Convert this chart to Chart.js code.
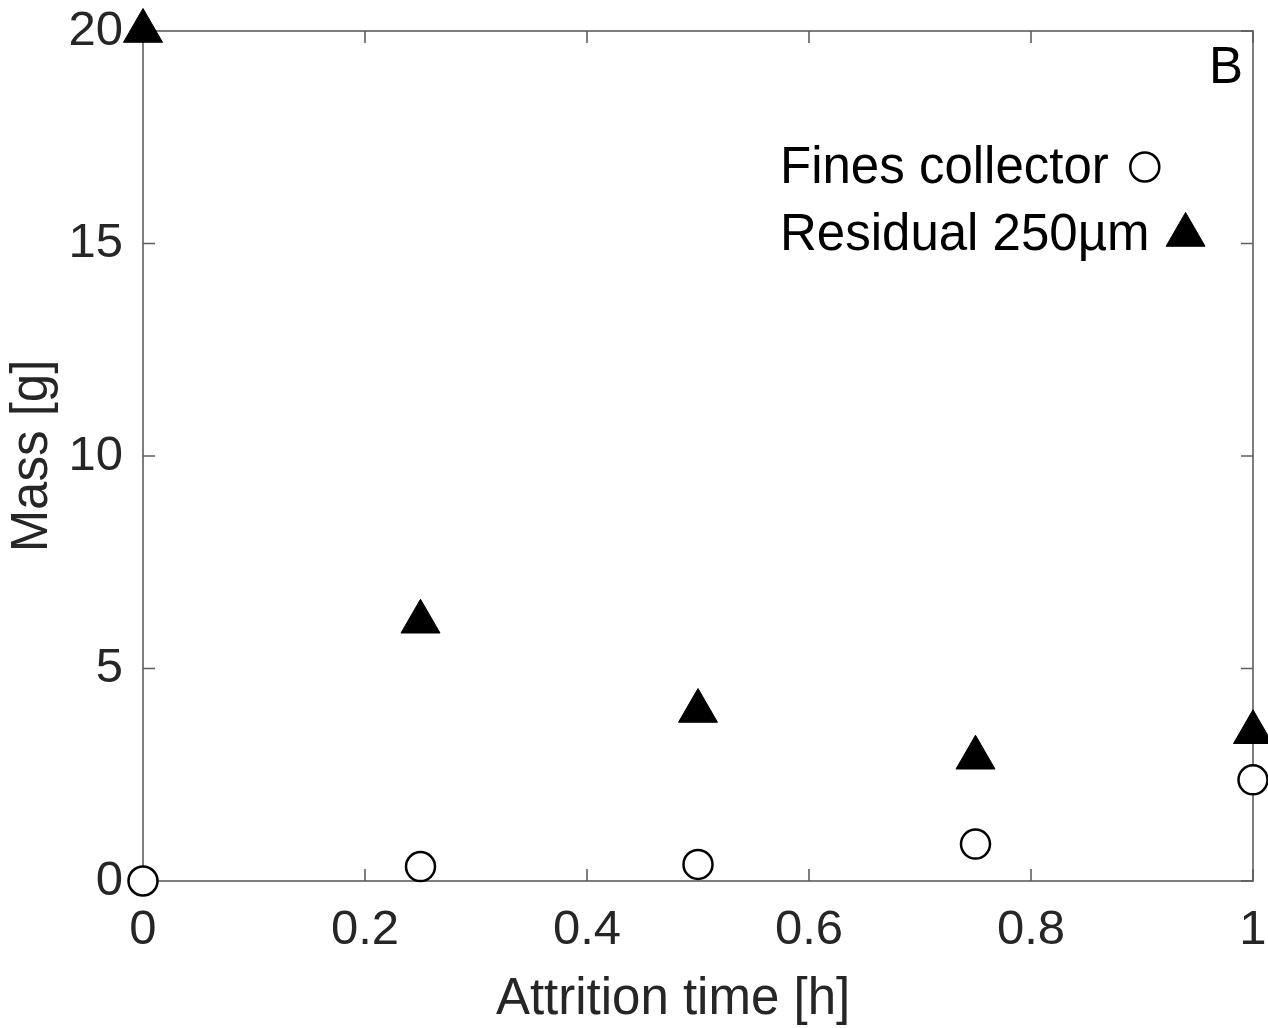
<!DOCTYPE html>
<html><head><meta charset="utf-8">
<script src="https://cdn.jsdelivr.net/npm/chart.js@4.4.0/dist/chart.umd.min.js"></script>
<style>html,body{margin:0;padding:0;background:#fff;} canvas{display:block;}</style>
</head><body>
<canvas id="c" width="1268" height="1028"></canvas>
<script>
// ---- data ----
const attritionTime = [0, 0.25, 0.5, 0.75, 1];
const finesCollector = [0.0, 0.34, 0.39, 0.87, 2.38];
const residual250 = [20.0, 6.1, 4.0, 2.9, 3.5];
const xTickValues = [0, 0.2, 0.4, 0.6, 0.8, 1];
const yTickValues = [0, 5, 10, 15, 20];
const seriesNames = ['Fines collector', 'Residual 250µm'];
const xTitle = 'Attrition time [h]';
const yTitle = 'Mass [g]';
const panelLabel = 'B';

const FONT = "'Liberation Sans', Arial, Helvetica, sans-serif";
const AXIS_COLOR = '#262626';
const FRAME_COLOR = '#5e5e5e';

function toPoints(xs, ys) { return xs.map((x, i) => ({x: x, y: ys[i]})); }

const circleStyle = {pointStyle: 'circle', radius: 14.5, borderWidth: 2.5, rotation: 0};
const triStyle = {pointStyle: 'triangle', radius: 22.5, borderWidth: 1, rotation: 0};

function drawMarker(ctx, st, x, y, fill, stroke) {
  ctx.save();
  ctx.fillStyle = fill; ctx.strokeStyle = stroke; ctx.lineWidth = st.borderWidth;
  if (Chart.helpers && Chart.helpers.drawPoint) {
    Chart.helpers.drawPoint(ctx, st, x, y);
  } else {
    ctx.beginPath();
    if (st.pointStyle === 'circle') ctx.arc(x, y, st.radius, 0, Math.PI * 2);
    else {
      const r = st.radius;
      ctx.moveTo(x, y - r);
      ctx.lineTo(x + Math.sin(2*Math.PI/3) * r, y - Math.cos(2*Math.PI/3) * r);
      ctx.lineTo(x + Math.sin(4*Math.PI/3) * r, y - Math.cos(4*Math.PI/3) * r);
      ctx.closePath();
    }
    ctx.fill(); ctx.stroke();
  }
  ctx.restore();
}

function zeroPad(s) { s.paddingTop = 0; s.paddingBottom = 0; s.paddingLeft = 0; s.paddingRight = 0; }

const framePlugin = {
  id: 'frame',
  beforeDatasetsDraw(chart) {
    const {ctx, chartArea: a, scales} = chart;
    ctx.save();
    ctx.strokeStyle = FRAME_COLOR;
    ctx.lineWidth = 1.6;
    ctx.strokeRect(a.left, a.top, a.right - a.left, a.bottom - a.top);
    const tl = 12;
    ctx.beginPath();
    xTickValues.forEach(v => {
      const px = scales.x.getPixelForValue(v);
      ctx.moveTo(px, a.bottom); ctx.lineTo(px, a.bottom - tl);
      ctx.moveTo(px, a.top); ctx.lineTo(px, a.top + tl);
    });
    yTickValues.forEach(v => {
      const py = scales.y.getPixelForValue(v);
      ctx.moveTo(a.left, py); ctx.lineTo(a.left + tl, py);
      ctx.moveTo(a.right, py); ctx.lineTo(a.right - tl, py);
    });
    ctx.stroke();
    ctx.restore();
  },
  afterDatasetsDraw(chart) {
    const {ctx, chartArea: a} = chart;
    ctx.save();
    // x axis title
    ctx.fillStyle = AXIS_COLOR;
    ctx.font = '51px ' + FONT;
    ctx.textAlign = 'center';
    ctx.textBaseline = 'alphabetic';
    ctx.fillText(xTitle, a.left + (a.right - a.left) * 0.4775, 1014);
    // legend
    ctx.font = '51px ' + FONT;
    ctx.textAlign = 'left';
    const lx = 780;
    const rows = [
      {text: seriesNames[0], base: 183, st: circleStyle, fill: '#fff', my: 167},
      {text: seriesNames[1], base: 250, st: triStyle, fill: '#000', my: 235}
    ];
    rows.forEach(r => {
      ctx.fillStyle = '#000';
      ctx.fillText(r.text, lx, r.base);
      const w = ctx.measureText(r.text).width;
      drawMarker(ctx, r.st, lx + w + 36, r.my, r.fill, '#000');
    });
    // panel label
    ctx.fillStyle = '#000';
    ctx.font = '51px ' + FONT;
    ctx.textAlign = 'right';
    ctx.fillText(panelLabel, a.right - 10, 83);
    ctx.restore();
  }
};

new Chart(document.getElementById('c'), {
  type: 'scatter',
  data: {
    datasets: [
      {
        label: seriesNames[0],
        data: toPoints(attritionTime, finesCollector),
        pointStyle: 'circle',
        pointRadius: circleStyle.radius,
        pointHoverRadius: circleStyle.radius,
        borderWidth: circleStyle.borderWidth,
        borderColor: '#000',
        backgroundColor: '#fff',
        clip: false
      },
      {
        label: seriesNames[1],
        data: toPoints(attritionTime, residual250),
        pointStyle: 'triangle',
        pointRadius: triStyle.radius,
        pointHoverRadius: triStyle.radius,
        borderWidth: triStyle.borderWidth,
        borderColor: '#000',
        backgroundColor: '#000',
        clip: false
      }
    ]
  },
  options: {
    responsive: false,
    devicePixelRatio: 1,
    animation: false,
    layout: {autoPadding: false, padding: {top: 31, right: 15, left: 0, bottom: 0}},
    plugins: {legend: {display: false}, tooltip: {enabled: false}},
    scales: {
      x: {
        type: 'linear', min: 0, max: 1,
        grid: {display: false, drawTicks: false},
        border: {display: false},
        afterBuildTicks: s => { s.ticks = xTickValues.map(v => ({value: v})); },
        afterFit: s => { s.height = 147; zeroPad(s); },
        ticks: {
          font: {family: FONT, size: 49}, color: AXIS_COLOR, padding: 20, maxRotation: 0,
          callback: v => String(Number(Number(v).toFixed(2)))
        },
        title: {display: false}
      },
      y: {
        type: 'linear', min: 0, max: 20,
        grid: {display: false, drawTicks: false},
        border: {display: false},
        afterBuildTicks: s => { s.ticks = yTickValues.map(v => ({value: v})); },
        afterFit: s => { s.width = 143; zeroPad(s); },
        ticks: {
          font: {family: FONT, size: 49}, color: AXIS_COLOR, padding: 20,
          callback: v => String(v)
        },
        title: {
          display: true, text: yTitle, color: AXIS_COLOR,
          font: {family: FONT, size: 51, lineHeight: 1.2}, padding: {top: 2, bottom: 0}
        }
      }
    }
  },
  plugins: [framePlugin]
});
</script>
</body></html>
